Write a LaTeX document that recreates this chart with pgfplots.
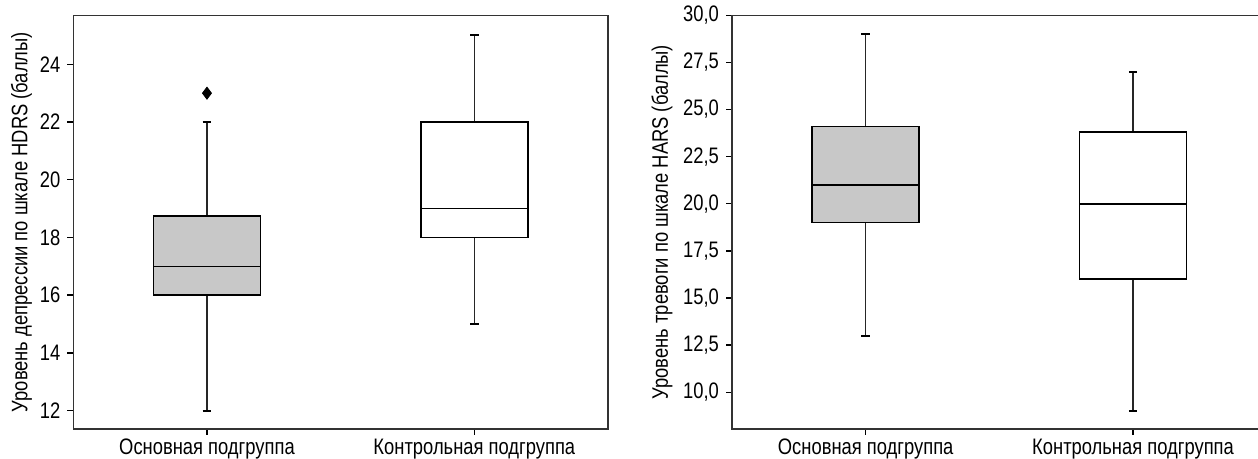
\documentclass[border=0pt]{standalone}
\usepackage{fontspec}
\setmainfont{Liberation Sans}[FakeStretch=0.82]
\usepackage{pgfplots}
\pgfplotsset{compat=1.18}
\definecolor{boxgray}{RGB}{200,200,200}
\pgfplotsset{
  common/.style={
    scale only axis, width=267.35pt, height=206.85pt,
    anchor=south west,
    xmin=-0.5, xmax=1.5, xtick={0,1},
    xticklabels={Основная подгруппа, Контрольная подгруппа},
    xticklabel style={yshift=1.5pt},
    tick pos=left, tick align=outside, major tick length=3pt,
    axis line style={black!80, line width=0.7pt},
    every tick/.style={black, line width=0.7pt},
    /pgf/number format/assume math mode=true,
    clip=false,
  }
}
% #1 position, #2 lower whisker, #3 Q1, #4 median, #5 Q3, #6 upper whisker, #7 fill
\newcommand\mybox[7]{%
  \addplot[black!85, line width=0.7pt] coordinates {(#1,#3) (#1,#2)};
  \addplot[black!85, line width=0.7pt] coordinates {(#1,#5) (#1,#6)};
  \addplot[black, line width=1pt] coordinates {({#1-0.016},#2) ({#1+0.016},#2)};
  \addplot[black, line width=1pt] coordinates {({#1-0.016},#6) ({#1+0.016},#6)};
  \addplot[fill=#7, draw=black, line width=0.75pt] coordinates {({#1-0.2},#3) ({#1+0.2},#3) ({#1+0.2},#5) ({#1-0.2},#5)} --cycle;
  \addplot[black, line width=0.75pt] coordinates {({#1-0.2},#4) ({#1+0.2},#4)};
}
\begin{document}
\begin{tikzpicture}[font=\fontsize{11.2pt}{13pt}\selectfont]
\begin{axis}[common, at={(36.65pt,15pt)},
  ymin=11.36, ymax=25.70, ytick={12,14,...,24},
  ylabel={Уровень депрессии по шкале HDRS (баллы)},
  ylabel style={at={(axis description cs:-0.097,0.5)}, anchor=center}]
\mybox{0}{12}{16}{17}{18.75}{22}{boxgray}
\mybox{1}{15}{18}{19}{22}{25}{white}
\addplot[only marks, mark=diamond*, mark size=3pt, mark options={fill=black, draw=black}] coordinates {(0,23)};
\end{axis}
\begin{axis}[common, at={(366pt,15pt)},
  ymin=8.05, ymax=30, ytick={10,12.5,...,30},
  yticklabel style={/pgf/number format/.cd, fixed, fixed zerofill, precision=1, use comma},
  ylabel={Уровень тревоги по шкале HARS (баллы)},
  ylabel style={at={(axis description cs:-0.131,0.5)}, anchor=center}]
\mybox{0}{13}{19}{21}{24.1}{29}{boxgray}
\mybox{1}{9}{16}{20}{23.8}{27}{white}
\end{axis}
\pgfresetboundingbox
\path[use as bounding box] (0pt,0pt) rectangle (629pt,229.5pt);
\end{tikzpicture}
\end{document}
